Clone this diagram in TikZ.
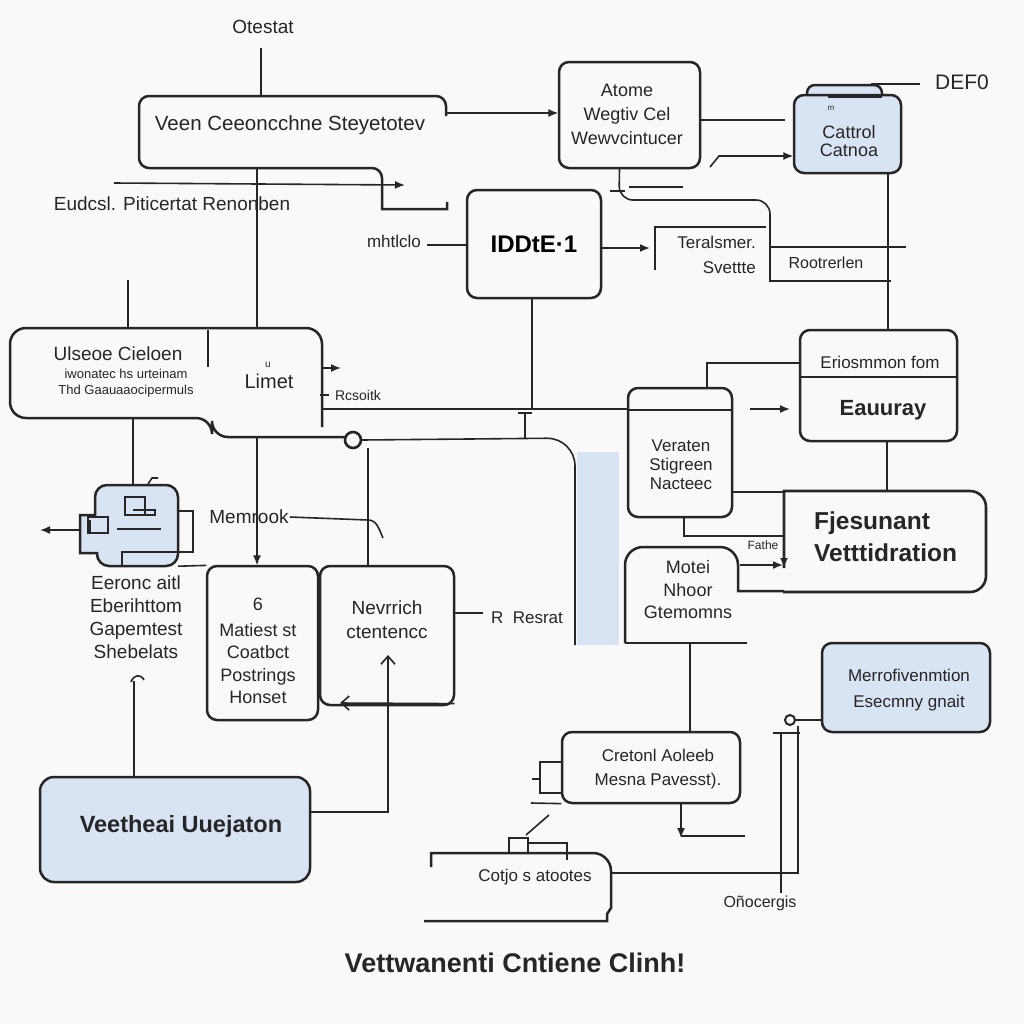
\documentclass[tikz,border=0pt]{standalone}
\usepackage{fontspec}
\setmainfont{Liberation Sans}
\usetikzlibrary{positioning,calc,arrows.meta}

\definecolor{boxblue}{HTML}{D8E4F3}
\definecolor{inkline}{HTML}{262626}
\definecolor{paper}{HTML}{F9F9F9}
\newcommand{\fsz}[2]{\fontsize{#1}{#2}\selectfont}

\tikzset{
  outline/.style={draw=inkline, line width=1.25pt, rounded corners=5pt},
  box/.style={outline, inner sep=0pt},
  bluebox/.style={box, fill=boxblue},
  frame/.style={inner sep=0pt},
  wire/.style={draw=inkline, line width=0.8pt},
  lbl/.style={text=inkline, align=center, inner sep=1pt},
  tip/.style={-{Latex[length=5pt,width=4pt]}},
  barb/.style={-{Straight Barb[length=4pt,width=7pt]}},
}

\begin{document}
\begin{tikzpicture}[x=1pt,y=-1pt,scale=0.5,transform shape]
  \fill[paper] (0,0) rectangle (1024,1024);
  \useasboundingbox (0,0) rectangle (1024,1024);

  % top row
  \node[lbl, font=\fsz{19}{23}] (otestat) at (263,27) {Otestat};
  \node[frame, minimum width=307pt, minimum height=72pt] (veen) at (292.5,132) {};
  \draw[outline] (446,116) -- (446,96) -- (139,96) -- (139,168) -- (382,168)
    [sharp corners] -- (382,209) -- (447,209) -- (447,202);
  \node[lbl, font=\fsz{20.5}{24}] (veenlbl) at (290,125) {Veen Ceeoncchne Steyetotev};
  \draw[wire] (veen.north -| 261,0) ++(0,-48) -- (veen.north -| 261,0);

  \node[box, minimum width=141pt, minimum height=106pt] (atome) at (629.5,115) {};
  \node[lbl, font=\fsz{18}{24}] (atomelbl) at (627,114) {Atome\\Wegtiv Cel\\Wewvcintucer};
  \draw[wire, tip] (veen.north east |- 0,113) -- (atome.west |- 0,113);

  \draw[outline, fill=boxblue, rounded corners=4pt] (807,97) -- (807,85) -- (882,85) -- (882,97);
  \node[bluebox, minimum width=107pt, minimum height=78pt] (cattrol) at (847.5,134) {};
  \draw[wire] (828,97) -- (882,97);
  \node[lbl, font=\fsz{8}{8}] (cattrolmark) at (831,108) {m};
  \node[lbl, font=\fsz{18}{18}] (cattrollbl) at (849,141) {Cattrol\\Catnoa};
  \node[lbl, font=\fsz{21}{21}] (def) at (962,82) {DEF0};
  \draw[wire] (def.west) ++(-14,2) -- (871,84);
  \draw[wire] (atome.east |- 0,120) -- (785,120);
  \draw[wire, tip] (710,167) -- (719,156) -- (cattrol.west |- 0,156);

  \node[lbl, font=\fsz{19}{23}] (eudcsl) at (172,204) {Eudcsl. Piticertat Renonben};
  \coordinate (eudstart) at (114,183);
  \draw[wire, tip] (eudstart) -- (405,185);

  \node[lbl, font=\fsz{17}{20}] (mhtlclo) at (394,241) {mhtlclo};
  \node[box, minimum width=134pt, minimum height=108pt, font=\fsz{24}{24}] (iddie) at (534,244) {\bfseries IDDtE·1};
  \draw[wire] ($(mhtlclo.east)+(5,4)$) -- (iddie.west |- 0,245);
  \coordinate (terisin) at (650,248);
  \draw[wire, tip] (iddie.east |- terisin) -- (terisin);

  \node[lbl, font=\fsz{17}{25}, align=right, anchor=east] (teris) at (757,255) {Teralsmer.\\Svettte};
  \draw[wire] (766,227) -- (655,227) -- (655,270);
  \node[lbl, font=\fsz{16}{16}] (rootr) at (826,263) {Rootrerlen};
  \draw[wire, rounded corners=7pt] ($(atome.south)+(-10,0)$) -- (619,200) -- (770,200) -- (770,247);
  \draw[wire] (906,247) -- (770,247) -- (770,281) -- (891,281);
  \draw[wire] (610,191) -- (625,191);
  \draw[wire] (629,187) -- (683,187);

  % middle band
  \node[frame, minimum width=312pt, minimum height=90pt] (uisoe) at (166,373) {};
  \draw[outline, rounded corners=8pt] (345,437) -- (212,437) -- (212,418) -- (10,418)
    -- (10,328) -- (322,328) -- (322,427);
  \draw[wire] (208,330) -- (208,367);
  \node[lbl, font=\fsz{19}{19}] (uisoelbl) at (118,354) {Ulseoe Cieloen};
  \node[lbl, font=\fsz{13}{16}] (uisoesub) at (126,383) {iwonatec hs urteinam\\Thd Gaauaaocipermuls};
  \node[lbl, font=\fsz{10}{10}] (limetmark) at (268,365) {u};
  \node[lbl, font=\fsz{20}{20}] (limet) at (269,381) {Limet};
  \draw[wire] (veen.south -| 257,0) -- (uisoe.north -| 257,0);
  \draw[wire] (128,280) -- (uisoe.north -| 128,0);
  \draw[wire, tip] (uisoe.east |- 0,368) -- (341,368);
  \draw[wire] (320,395) -- (329,395);
  \node[lbl, font=\fsz{14}{14}] (rcsoitk) at (358,395) {Rcsoitk};

  \node[circle, draw=inkline, line width=1.3pt, minimum size=16pt, inner sep=0pt] (ring) at (353,440) {};
  \node[box, minimum width=104pt, minimum height=129pt] (veraten) at (680,452.5) {};
  \draw[wire] (veraten.north west |- 0,410) -- (veraten.north east |- 0,410);
  \node[lbl, font=\fsz{17}{19}] (veratenlbl) at (681,465) {Veraten\\Stigreen\\Nacteec};
  \draw[wire] (uisoe.east |- 0,409) -- (veraten.west |- 0,409);
  \fill[boxblue] (577,452) rectangle (619,645);
  \draw[wire, rounded corners=14pt] (ring.east) -- (575,438) -- (575,645);
  \draw[wire] (iddie.south -| 532,0) -- (532,409);
  \draw[wire] (518,413) -- (532,413) (525,413) -- (525,438);

  \node[box, minimum width=157pt, minimum height=111pt] (erios) at (878.5,385.5) {};
  \draw[wire] (erios.west |- 0,377) -- (erios.east |- 0,377);
  \node[lbl, font=\fsz{17}{17}] (erioslbl) at (880,362) {Eriosmmon fom};
  \node[lbl, font=\fsz{22}{22}] (eauuray) at (883,410) {\bfseries Eauuray};
  \draw[wire] (cattrol.south -| 888,0) -- (erios.north -| 888,0);
  \draw[wire] (veraten.north -| 707,0) -- (707,363) -- (erios.west |- 0,363);
  \draw[wire, tip] (750,409) -- (790,409);

  \node[frame, minimum width=203pt, minimum height=101pt] (fjes) at (884.5,541.5) {};
  \draw[outline, line width=1.3pt, rounded corners=8pt] (784,568) [sharp corners] -- (784,491)
    [rounded corners=8pt] -- (986,491) -- (986,592) -- (783,592);
  \node[lbl, font=\fsz{24.5}{32}, align=left, anchor=west] (fjeslbl) at (813,537) {\bfseries Fjesunant\\\bfseries Vetttidration};
  \draw[wire, line width=1.2pt, tip] (veraten.east |- 0,492) -- (784,492) -- (784,568);
  \draw[wire] (erios.south -| 887,0) -- (fjes.north -| 887,0);
  \draw[wire] (veraten.south -| 684,0) -- (684,536) -- (784,536);
  \node[lbl, font=\fsz{12}{12}] (fathe) at (763,545) {Fathe};

  \node[frame, minimum width=113pt, minimum height=96pt] (motei) at (681,595) {};
  \draw[outline, rounded corners=9pt] (625,643) -- (625,547) -- (738,547)
    [sharp corners] -- (738,591) -- (784,591);
  \draw[wire, line width=1.1pt] (625,643) -- (747,643);
  \node[lbl, font=\fsz{18}{22.5}] (moteilbl) at (688,590) {Motei\\Nhoor\\Gtemomns};
  \draw[wire, tip] (740,565) -- (783,565);

  % left block
  \draw[outline, fill=boxblue, rounded corners=6pt] (95,515) -- (95,485) -- (178,485) -- (178,566)
    -- (97,566) [sharp corners] -- (97,553) -- (80,553) -- (80,515) -- cycle;
  \node[frame, minimum width=98pt, minimum height=81pt] (icon) at (129,525.5) {};
  \draw[wire] (125,497) rectangle (145,515);
  \draw[wire] (133,510) -- (155,510) -- (155,515) -- (133,515);
  \draw[wire] (117,529) -- (161,529);
  \draw[wire] (88,517) rectangle (108,533);
  \draw[wire, line width=1.4pt] (90,520) -- (90,532);
  \draw[wire] (178,511) -- (193,511) -- (193,552) -- (122,552) -- (122,566);
  \draw[wire] (148,484) -- (152,478) -- (158,478);
  \draw[wire, tip] (icon.west |- 0,530) -- (40,530);
  \draw[wire] (uisoe.south -| 133,0) -- (icon.north -| 133,0);

  \node[lbl, font=\fsz{19}{19}] (memrook) at (249,517) {Memrook};
  \draw[wire] (memrook.east) -- (368,520) to[out=0,in=115] (383,538);

  \node[box, minimum width=111pt, minimum height=154pt] (maties) at (262.5,643) {};
  \node[lbl, font=\fsz{18}{22.5}] (matieslbl) at (258,651) {6\\[3pt]Matiest st\\Coatbct\\Postrings\\Honset};
  \node[box, minimum width=134pt, minimum height=139pt] (nevrich) at (387,635.5) {};
  \node[lbl, font=\fsz{19}{24}] (nevrichlbl) at (387,620) {Nevrrich\\ctentencc};
  \draw[wire] (icon.south east) -- (maties.north west);
  \draw[wire, tip] (veen.south -| 257,0) ++(0,269) -- (maties.north -| 257,0);
  \draw[wire] (368,448) -- (nevrich.north -| 368,0);
  \draw[wire, barb] ($(nevrich.south east)+(0,-2)$) -- (340,703);
  \draw[wire] (nevrich.east |- 0,613) -- (483,613);
  \node[lbl, font=\fsz{17}{17}] (resrat) at (527,618) {R\ \ Resrat};

  \node[lbl, font=\fsz{19}{23}] (eeronc) at (136,617) {Eeronc aitl\\Eberihttom\\Gapemtest\\Shebelats};
  \draw[wire] (131,682) .. controls (134,674) and (141,674) .. (144,680);

  % bottom row
  \node[bluebox, rounded corners=7pt, minimum width=270pt, minimum height=105pt] (veethe) at (175,829.5) {};
  \node[lbl, font=\fsz{23.5}{23.5}] (veethelbl) at (181,826) {\bfseries Veetheai Uuejaton};
  \draw[wire] (veethe.north -| 134,0) -- (134,681);
  \draw[wire, barb] (veethe.east |- 0,812) -- (388,812) -- (388,655);

  \node[bluebox, minimum width=168pt, minimum height=89pt] (memoriv) at (906,687.5) {};
  \node[lbl, font=\fsz{17}{26}] (memorivlbl) at (909,690) {Merrofivenmtion\\Esecmny gnait};
  \node[circle, draw=inkline, line width=1pt, minimum size=10pt, inner sep=0pt] (knob) at (790,720) {};
  \draw[wire] (knob.east) -- (memoriv.west |- knob.east);

  \node[box, minimum width=178pt, minimum height=71pt] (cretonl) at (651,767.5) {};
  \node[lbl, font=\fsz{17}{24}] (cretonllbl) at (658,769) {Cretonl Aoleeb\\Mesna Pavesst).};
  \draw[wire] (motei.south -| 690,0) -- (cretonl.north -| 690,0);
  \draw[wire] (cretonl.west |- 0,762) -- (540,762) -- (540,793) -- (cretonl.west |- 0,793);
  \draw[wire] (532,779) -- (540,779);
  \draw[wire] (531,803) -- (cretonl.south west);
  \draw[wire, tip] (cretonl.south -| 681,0) -- (681,838);
  \draw[wire] (681,836) -- (745,836);

  \node[frame, minimum width=181pt, minimum height=68pt] (cotjo) at (518,887) {};
  \draw[outline, rounded corners=9pt] (431,867) [sharp corners] -- (431,853)
    [rounded corners=9pt] -- (611,853) [sharp corners] -- (611,908) -- (607,914) -- (607,921) -- (424,921);
  \node[lbl, font=\fsz{17}{17}] (cotjolbl) at (535,877) {Cotjo s atootes};
  \draw[wire] (509,838) rectangle (528,853);
  \draw[wire] (528,843) -- (567,843) -- (567,860);
  \draw[wire] (526,835) -- (549,815);
  \draw[wire] (773,733) -- (800,733);
  \draw[wire] (781,733) -- (781,893);
  \draw[wire] (knob.south -| 798,0) -- (798,873) -- (611,873);
  \node[lbl, font=\fsz{16}{16}] (onocergis) at (760,903) {Oñocergis};

  \node[lbl, font=\fsz{27}{27}] (title) at (515,963) {\bfseries Vettwanenti Cntiene Clinh!};
\end{tikzpicture}
\end{document}
